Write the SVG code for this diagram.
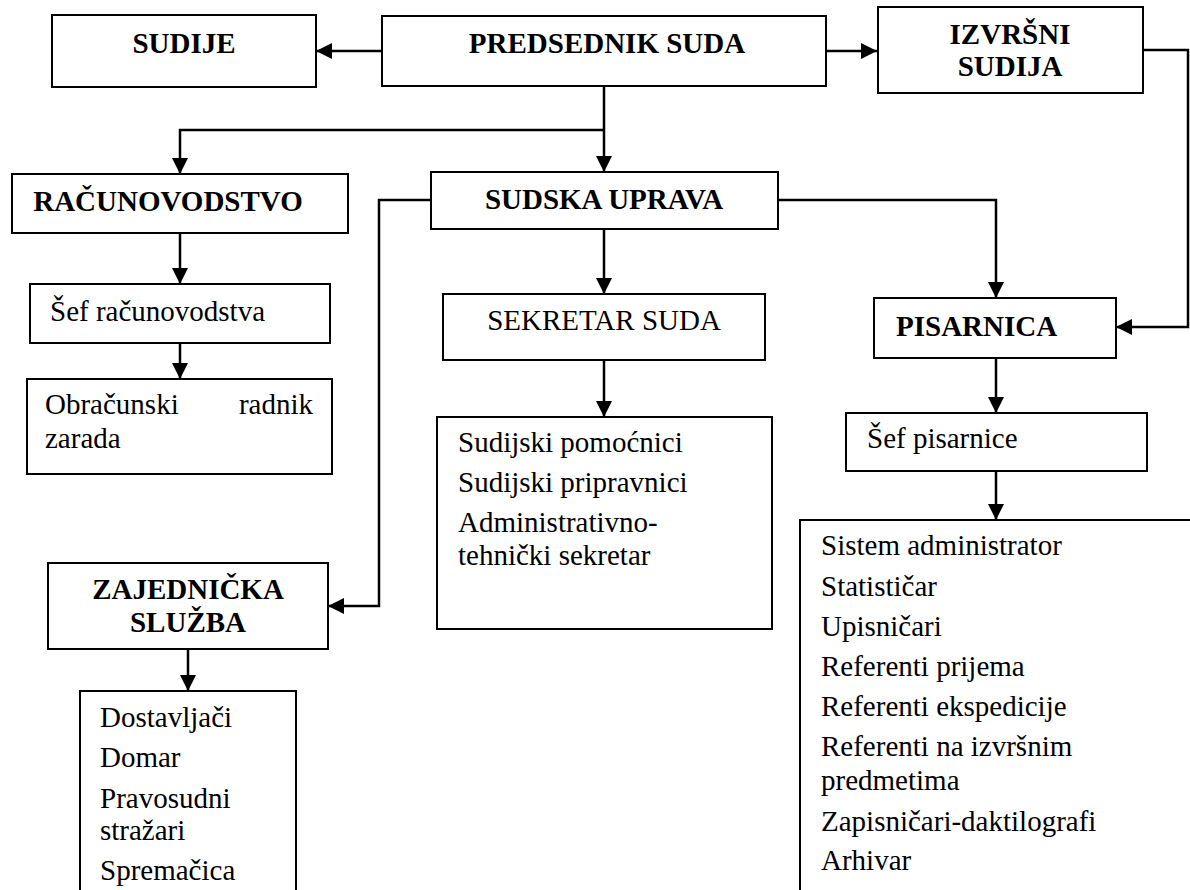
<svg xmlns="http://www.w3.org/2000/svg" width="1190" height="890" viewBox="0 0 1190 890">
<style>
.box{fill:#fff;stroke:#000;stroke-width:2}
.b{font-family:"Liberation Serif","Times New Roman",serif;font-weight:bold;font-size:29px;fill:#000}
.r{font-family:"Liberation Serif","Times New Roman",serif;font-size:29px;fill:#000}
.c{fill:none;stroke:#000;stroke-width:2.5;marker-end:url(#ah)}
</style>
<defs>
<marker id="ah" markerUnits="userSpaceOnUse" markerWidth="16" markerHeight="16" refX="16" refY="8" orient="auto">
<path d="M0,0 L16,8 L0,16 z" fill="#000"/>
</marker>
</defs>
<rect width="1190" height="890" fill="#fff"/>
<g id="connectors">
<path class="c" d="M382,51 H316"/>
<path class="c" d="M826,51 H877"/>
<path class="c" d="M604,86 V172"/>
<path class="c" d="M604,130 H180 V174"/>
<path class="c" d="M1143,50 H1188 V327 H1116"/>
<path class="c" d="M431,200 H379 V606 H328"/>
<path class="c" d="M778,200 H996 V298"/>
<path class="c" d="M604,229 V294"/>
<path class="c" d="M604,360 V417"/>
<path class="c" d="M180,233 V284"/>
<path class="c" d="M180,343 V379"/>
<path class="c" d="M996,358 V413"/>
<path class="c" d="M996,471 V520"/>
<path class="c" d="M188,649 V691"/>
</g>
<g id="sudije"><rect class="box" x="52" y="15" width="264" height="72"/><text class="b" x="184" y="53" text-anchor="middle">SUDIJE</text></g>
<g id="predsednik"><rect class="box" x="382" y="16" width="444" height="70"/><text class="b" x="607" y="53" text-anchor="middle">PREDSEDNIK SUDA</text></g>
<g id="izvrsni"><rect class="box" x="878" y="7" width="265" height="86"/><text class="b" x="1010" y="44" text-anchor="middle">IZVRŠNI</text><text class="b" x="1010" y="76" text-anchor="middle">SUDIJA</text></g>
<g id="racunovodstvo"><rect class="box" x="12" y="174" width="336" height="59"/><text class="b" x="168" y="211" text-anchor="middle">RAČUNOVODSTVO</text></g>
<g id="sudska-uprava"><rect class="box" x="431" y="172" width="347" height="57"/><text class="b" x="604" y="209" text-anchor="middle">SUDSKA UPRAVA</text></g>
<g id="sef-racunovodstva"><rect class="box" x="30" y="284" width="300" height="59"/><text class="r" x="50" y="321">Šef računovodstva</text></g>
<g id="obracunski"><rect class="box" x="27" y="379" width="305" height="95"/><text class="r" x="45" y="414">Obračunski</text><text class="r" x="313" y="414" text-anchor="end">radnik</text><text class="r" x="45" y="448">zarada</text></g>
<g id="sekretar"><rect class="box" x="443" y="294" width="322" height="66"/><text class="r" x="604" y="330" text-anchor="middle">SEKRETAR SUDA</text></g>
<g id="sekretar-lista"><rect class="box" x="437" y="417" width="335" height="212"/><text class="r" x="458" y="452">Sudijski pomoćnici</text><text class="r" x="458" y="492">Sudijski pripravnici</text><text class="r" x="458" y="532">Administrativno-</text><text class="r" x="458" y="565">tehnički sekretar</text></g>
<g id="pisarnica"><rect class="box" x="874" y="298" width="242" height="60"/><text class="b" x="896" y="336">PISARNICA</text></g>
<g id="sef-pisarnice"><rect class="box" x="846" y="413" width="301" height="58"/><text class="r" x="867" y="448">Šef pisarnice</text></g>
<g id="pisarnica-lista"><rect class="box" x="800" y="520" width="420" height="400"/><text class="r" x="821" y="555">Sistem administrator</text><text class="r" x="821" y="596">Statističar</text><text class="r" x="821" y="636">Upisničari</text><text class="r" x="821" y="676">Referenti prijema</text><text class="r" x="821" y="716">Referenti ekspedicije</text><text class="r" x="821" y="756">Referenti na izvršnim</text><text class="r" x="821" y="790">predmetima</text><text class="r" x="821" y="831">Zapisničari-daktilografi</text><text class="r" x="821" y="870">Arhivar</text></g>
<g id="zajednicka"><rect class="box" x="48" y="563" width="280" height="86"/><text class="b" x="188" y="599" text-anchor="middle">ZAJEDNIČKA</text><text class="b" x="188" y="632" text-anchor="middle">SLUŽBA</text></g>
<g id="zajednicka-lista"><rect class="box" x="80" y="691" width="216" height="230"/><text class="r" x="100" y="727">Dostavljači</text><text class="r" x="100" y="767">Domar</text><text class="r" x="100" y="808">Pravosudni</text><text class="r" x="100" y="840">stražari</text><text class="r" x="100" y="880">Spremačica</text></g>
</svg>
